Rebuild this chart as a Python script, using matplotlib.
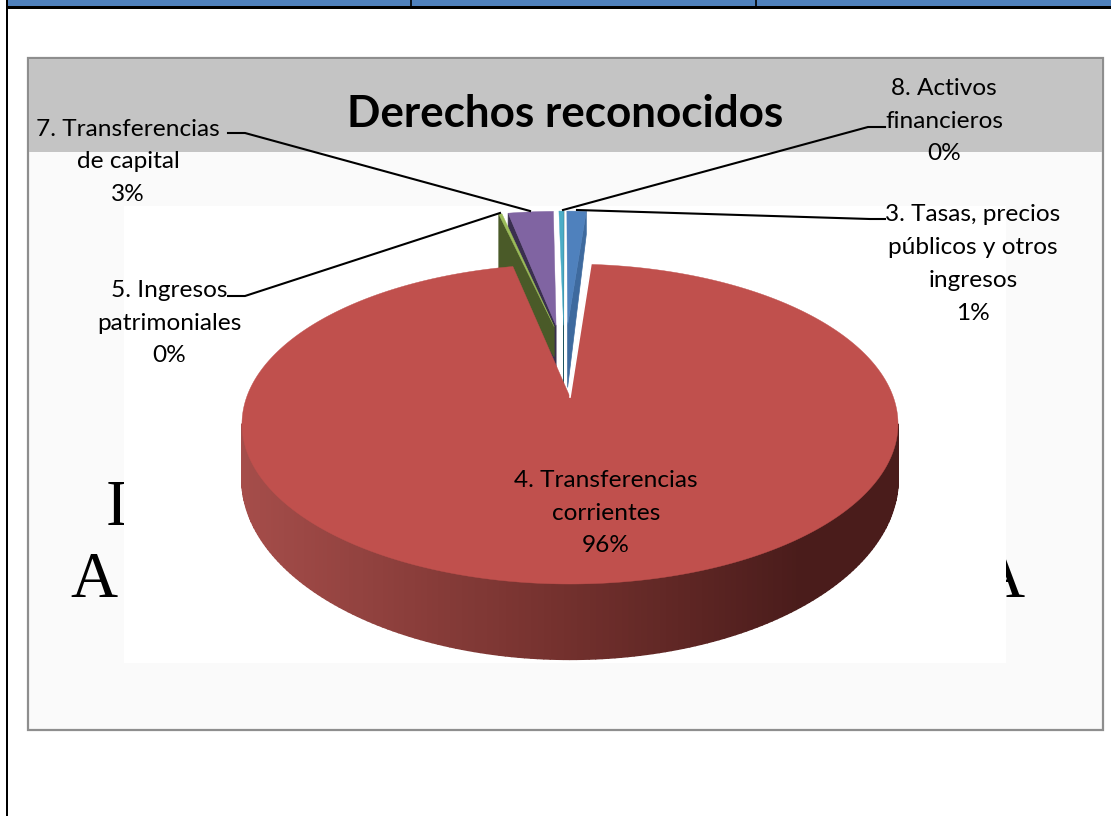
import numpy as np
import matplotlib
matplotlib.use("Agg")
import matplotlib.pyplot as plt
from matplotlib.patches import Rectangle, Polygon
from matplotlib.collections import PolyCollection
from matplotlib.colors import to_rgb

# Chart data
categories = ["3. Tasas, precios\npúblicos y otros\ningresos", "4. Transferencias\ncorrientes",
              "5. Ingresos\npatrimoniales", "7. Transferencias\nde capital", "8. Activos\nfinancieros"]
values = [1.2, 95.5, 0.2, 2.8, 0.3]
top_colors = ["#4F81BD", "#C0504D", "#9BBB59", "#8064A2", "#4BACC6"]
side_colors = ["#3E6A9E", "#7A3330", "#4A5A28", "#3A2F4F", "#1F5560"]
title = "Derechos reconocidos"

fig = plt.figure(figsize=(11.11, 8.16), dpi=100)
ax = fig.add_axes([0, 0, 1, 1])
ax.set_xlim(0, 1111)
ax.set_ylim(816, 0)
ax.axis("off")

# Page furniture behind the chart
ax.add_patch(Rectangle((7, 0), 1104, 5.5, fc="#4F81BD", ec="none", zorder=1))
ax.add_patch(Rectangle((6, 5.5), 1105, 3, fc="black", ec="none", zorder=2))
ax.add_patch(Rectangle((6, 0), 2.2, 816, fc="black", ec="none", zorder=2))
for sep_x in [411, 756]:
    ax.plot([sep_x, sep_x], [0, 6], color="black", lw=1.2, zorder=2)

# Chart frame, grey title band, scanned text and white plot area
ax.add_patch(Rectangle((28, 58), 1074.5, 672, fc="#FAFAFA", ec="#8E8E8E", lw=1.6, zorder=3))
ax.add_patch(Rectangle((29, 59), 1072.5, 93, fc="#C4C4C4", ec="none", zorder=4))
serif = dict(family="Liberation Serif", fontsize=47, color="black", va="baseline", zorder=4)
ax.text(106, 525, "I", ha="left", **serif)
ax.text(70, 597, "A", ha="left", **serif)
ax.text(1024, 597, "A", ha="right", **serif)
ax.add_patch(Rectangle((124, 206), 882, 457, fc="white", ec="none", zorder=5))

# Perspective of the pie: centre of the red slice and radii in pixels
X0, Y0 = 570, 397
A, B, T = 323.3, 155.4, 0.169
EXPLODE = 0.5
# per slice: rim shift, apex shift, rim depth, apex depth
small_style = {0: (-8, -8, 23, 62), 2: (8, 14, 58, 30), 3: (2, 2, 42, 42), 4: (-5, -5, 23, 62)}


def project(u, v, shift=0.0):
    s = 1 / (1 + T * v)
    return X0 + shift + A * u * s, Y0 - B * v * s, s


# Slice angles, clockwise from the top
fractions = np.array(values) / sum(values)
edges = np.concatenate([[0], np.cumsum(fractions)]) * 2 * np.pi

# Exploded back slices, furthest first
for n, i in enumerate([3, 2, 0, 4]):
    a1, a2 = edges[i], edges[i + 1]
    mid = (a1 + a2) / 2
    eu, ev = EXPLODE * np.sin(mid), EXPLODE * np.cos(mid)
    rim_shift, apex_shift, rim_depth, apex_depth = small_style[i]
    angs = np.linspace(a1, a2, 12)
    rim = [project(eu + np.sin(a), ev + np.cos(a), rim_shift)[:2] for a in angs]
    apex = project(eu, ev, apex_shift)[:2]
    cut = rim[0] if i in (2, 3) else rim[-1]
    side = [cut, apex, (apex[0], apex[1] + apex_depth), (cut[0], cut[1] + rim_depth)]
    ax.add_patch(Polygon(side, closed=True, fc=side_colors[i], ec=side_colors[i], lw=0.5, zorder=6 + n * 0.1))
    ax.add_patch(Polygon([apex] + rim, closed=True, fc=top_colors[i], ec=top_colors[i], lw=0.3,
                         zorder=6.05 + n * 0.1))

# Big slice: outer wall with the left to right shading, then the top
r1, r2 = edges[1], edges[2]
wall_angs = np.linspace(r1, r2, 361)
wall_quads = []
wall_cols = []
dark_left, dark_mid, dark_right = np.array(to_rgb("#A54D4A")), np.array(to_rgb("#72302D")), np.array(to_rgb("#4A1C1B"))
pts = [project(np.sin(a), np.cos(a)) for a in wall_angs]
for p, q in zip(pts[:-1], pts[1:]):
    if (p[1] + q[1]) / 2 < 424:
        continue
    d1, d2 = 52 * p[2] ** 2, 52 * q[2] ** 2
    wall_quads.append([(p[0], p[1]), (q[0], q[1]), (q[0], q[1] + d2), (p[0], p[1] + d1)])
    xm = (p[0] + q[0]) / 2
    wall_cols.append([np.interp(xm, [243, 570, 800], [dark_left[c], dark_mid[c], dark_right[c]]) for c in range(3)])
ax.add_collection(PolyCollection(wall_quads, facecolors=wall_cols, edgecolors=wall_cols, linewidths=1.2, zorder=7))

top_pts = [(X0, Y0)] + [project(np.sin(a), np.cos(a))[:2] for a in wall_angs]
ax.add_patch(Polygon(top_pts, closed=True, fc=top_colors[1], ec=top_colors[1], lw=0.3, zorder=8))
ax.plot([X0, top_pts[1][0]], [Y0, top_pts[1][1]], color="white", lw=1.2, zorder=8.5)

# Leader lines
leaders = [
    ([228, 245, 530], [133, 133, 211]),
    ([885, 868, 563], [127, 127, 210]),
    ([885, 870, 577], [219, 219, 210]),
    ([228, 245, 500], [296, 296, 213]),
]
for lx, ly in leaders:
    ax.plot(lx, ly, color="black", lw=1.5, zorder=9, solid_joinstyle="miter")

# Text
ax.text(565, 114, title, family="Lato", weight="bold", fontsize=31.7, ha="center", va="center", color="black", zorder=10)
label_pos = [(973, 264), (606, 513), (169, 323), (128, 162), (944, 121)]
for name, val, (tx, ty) in zip(categories, values, label_pos):
    ax.text(tx, ty, f"{name}\n{round(val)}%", family="Lato", fontsize=17.6, ha="center", va="center",
            linespacing=1.7, color="black", zorder=10)

fig.savefig("out.png", dpi=100)
